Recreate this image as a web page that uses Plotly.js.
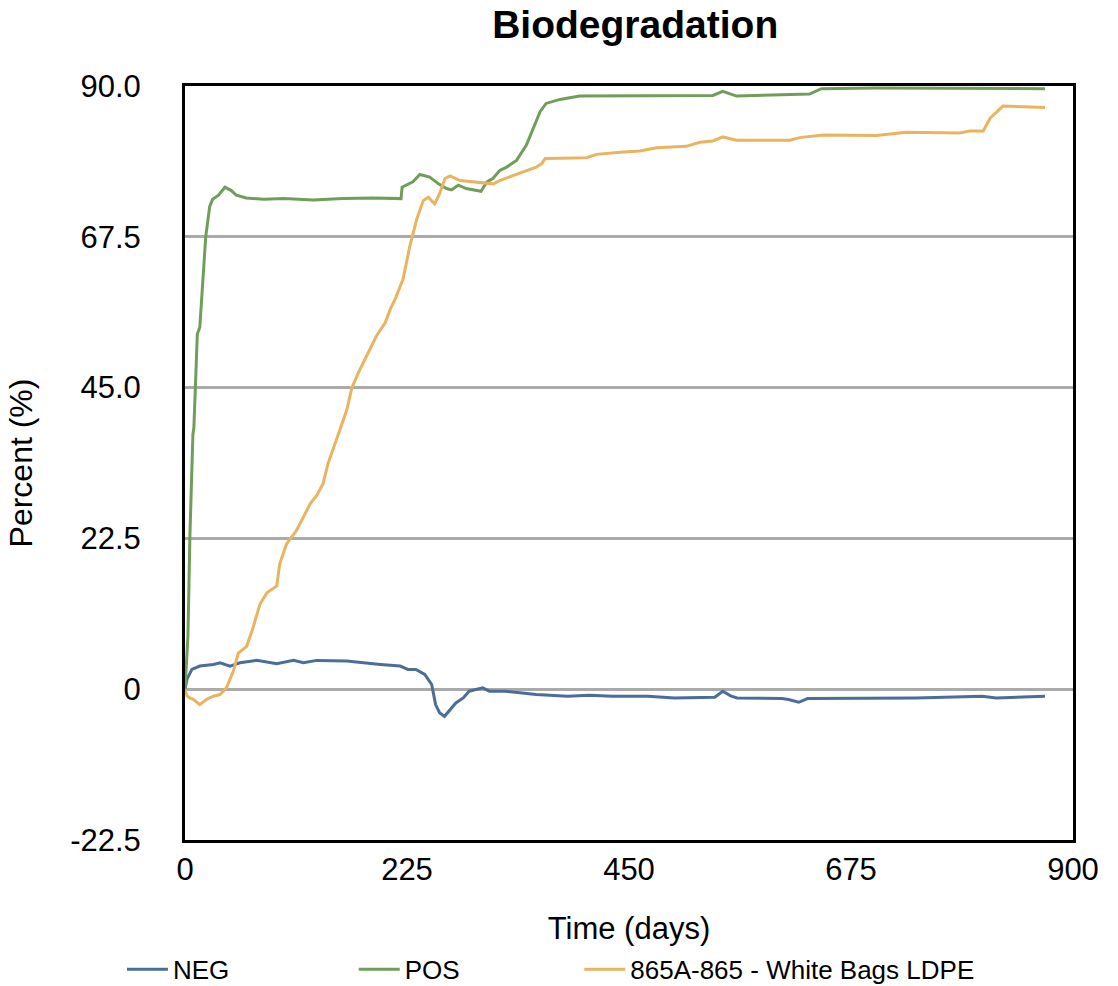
<!DOCTYPE html>
<html>
<head>
<meta charset="utf-8">
<script src="https://cdn.plot.ly/plotly-3.0.1.min.js"></script>
<style>html,body{margin:0;padding:0;background:#fff;}#chart{width:1118px;height:986px;}</style>
</head>
<body>
<div id="chart"></div>
<script>
// NEG series
const negDays = [0, 2, 7, 15, 28.7, 35.5, 45.6, 55.7, 72.6, 93, 110, 120, 133.5, 164, 198, 218, 226, 234, 243, 250, 254, 258, 263, 268, 274.5, 282, 288, 301.7, 308.5, 324, 356, 387.7, 410, 433, 469, 496, 537, 545, 553, 559.5, 605, 611.6, 622, 631, 659, 695, 740.5, 808, 822, 871.6];
const negVals = [0, 1.5, 2.95, 3.45, 3.7, 3.95, 3.45, 3.95, 4.3, 3.8, 4.3, 3.95, 4.3, 4.2, 3.7, 3.45, 2.95, 2.95, 2.2, 0.7, -2.3, -3.5, -4.05, -3.2, -2.05, -1.3, -0.3, 0.2, -0.3, -0.3, -0.8, -1.05, -0.9, -1.05, -1.05, -1.3, -1.2, -0.3, -1.0, -1.3, -1.4, -1.55, -1.95, -1.4, -1.4, -1.3, -1.3, -1.05, -1.3, -1.05];

// POS series
const posDays = [0, 1, 3, 5, 7, 8, 9, 10, 12.5, 15, 17, 21, 25, 28, 34, 40.5, 47, 52, 62, 80, 100, 130, 160, 190, 219, 220, 231, 238, 248, 257, 265, 270, 277, 285, 300, 306, 312, 319, 326, 336, 346, 353, 360, 366, 380, 400, 434, 502, 535, 545, 559, 633, 645, 700, 758, 820, 871.6];
const posVals = [0, 3, 8, 23, 33, 38, 39, 44, 53, 54, 58, 67.5, 72, 73.1, 73.7, 74.9, 74.4, 73.7, 73.3, 73.1, 73.2, 73.0, 73.2, 73.3, 73.2, 74.9, 75.7, 76.8, 76.4, 75.4, 74.7, 74.5, 75.2, 74.7, 74.3, 75.7, 76.2, 77.4, 77.9, 78.9, 81.2, 83.7, 86.2, 87.4, 88.0, 88.5, 88.5, 88.6, 88.6, 89.2, 88.5, 88.8, 89.6, 89.7, 89.7, 89.7, 89.6];

// 865A-865 - White Bags LDPE series
const ldpeDays = [0, 2, 5, 8.4, 15, 22, 28.7, 35.5, 42, 49, 54, 62.5, 69, 76, 83, 93, 96, 103, 108, 113, 120, 127, 133.5, 140, 145, 150, 157, 164, 169, 175.6, 184, 194, 203, 208, 213, 221, 228, 235, 241.5, 246.6, 253, 258, 263.5, 268.6, 278.7, 292, 305.8, 312.5, 319, 333, 346, 356, 361.5, 365, 407, 417, 441, 461, 478, 508, 522, 535, 545, 559, 613, 623, 647, 701, 731, 785, 796, 809, 816, 823, 829, 871.6];
const ldpeVals = [0, -1.0, -1.3, -1.5, -2.3, -1.5, -1.05, -0.8, 0.2, 2.7, 5.4, 6.4, 9.2, 12.7, 14.4, 15.4, 18.7, 21.7, 22.7, 23.7, 25.7, 27.7, 28.9, 30.7, 33.7, 35.7, 38.7, 41.7, 44.9, 47.2, 49.7, 52.7, 54.7, 56.7, 58.2, 61.2, 66.2, 70.2, 72.9, 73.4, 72.4, 73.9, 76.2, 76.6, 75.9, 75.7, 75.4, 75.4, 75.9, 76.7, 77.4, 77.9, 78.4, 79.2, 79.3, 79.8, 80.1, 80.3, 80.8, 81.0, 81.6, 81.8, 82.4, 81.9, 81.9, 82.3, 82.7, 82.6, 83.1, 83.0, 83.3, 83.3, 85.2, 86.2, 87.0, 86.8];

const seriesNames = ['NEG', 'POS', '865A-865 - White Bags LDPE'];
const xTickVals = [0, 225, 450, 675, 900];
const xTickText = ['0', '225', '450', '675', '900'];
const yTickVals = [-22.5, 0, 22.5, 45, 67.5, 90];
const yTickText = ['-22.5', '0', '22.5', '45.0', '67.5', '90.0'];

const font = '"Liberation Sans", Arial, Helvetica, sans-serif';

const traces = [
  {x: negDays, y: negVals, name: seriesNames[0], mode: 'lines', line: {color: '#4a6d9c', width: 3}, legend: 'legend'},
  {x: posDays, y: posVals, name: seriesNames[1], mode: 'lines', line: {color: '#6f9e5a', width: 3}, legend: 'legend2'},
  {x: ldpeDays, y: ldpeVals, name: seriesNames[2], mode: 'lines', line: {color: '#e9b35f', width: 3}, legend: 'legend3'}
];

function legendAt(x) {
  return {orientation: 'h', x: x, xanchor: 'left', xref: 'paper', y: 0.017, yref: 'container', yanchor: 'middle',
    font: {family: font, size: 26, color: '#000'}, itemwidth: 41, bgcolor: 'rgba(0,0,0,0)', borderwidth: 0};
}

const layout = {
  width: 1118, height: 986,
  margin: {l: 185, r: 45, t: 86, b: 146, autoexpand: false},
  paper_bgcolor: '#fff', plot_bgcolor: '#fff',
  font: {family: font, color: '#000', size: 31},
  title: {text: '<b>Biodegradation</b>', font: {family: font, size: 39, color: '#000'}, x: 0.507, xref: 'paper', xanchor: 'center', y: 0.975, yref: 'container', yanchor: 'middle'},
  showlegend: true,
  legend: legendAt(-0.071),
  legend2: legendAt(0.190),
  legend3: legendAt(0.444),
  xaxis: {
    range: [0, 900], tickvals: xTickVals, ticktext: xTickText, showgrid: false, zeroline: false,
    showline: true, linecolor: '#000', linewidth: 3, mirror: true, ticks: '',
    ticklabelstandoff: 0, tickfont: {size: 31, family: font}, automargin: false,
    title: {text: 'Time (days)', font: {size: 31, family: font}, standoff: 34}
  },
  yaxis: {
    range: [-22.5, 90], tickvals: yTickVals, ticktext: yTickText, showgrid: true, gridcolor: '#aaaaaa', gridwidth: 3,
    zeroline: false, showline: true, linecolor: '#000', linewidth: 3, mirror: true, ticks: '',
    ticklabelstandoff: 35, tickfont: {size: 31, family: font}, automargin: false,
    title: {text: 'Percent (%)', font: {size: 32, family: font}, standoff: 28}
  }
};

Plotly.newPlot('chart', traces, layout, {displayModeBar: false, staticPlot: true});
</script>
</body>
</html>
